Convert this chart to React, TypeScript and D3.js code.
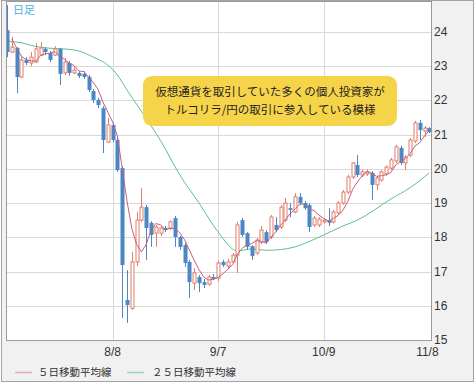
import React from "react";
import * as d3 from "d3";

const openV = [24.05,23.41,23.53,22.68,23.18,23.09,23.12,23.32,23.50,23.38,23.32,23.50,22.80,23.09,22.80,22.80,22.77,22.68,22.27,22.01,21.77,20.78,21.28,20.84,20.02,16.17,15.93,17.28,18.50,18.88,18.42,18.12,18.12,18.27,18.27,18.56,18.01,17.77,17.28,16.66,16.84,16.69,16.63,16.84,16.81,17.28,17.16,17.28,17.48,18.50,18.12,17.74,17.54,17.86,18.15,18.01,18.36,18.30,18.50,18.85,18.74,19.18,19.00,18.94,18.36,18.36,18.45,18.50,18.45,18.71,19.00,19.32,19.76,20.11,19.82,19.85,19.88,19.53,19.67,19.85,20.02,20.23,20.61,20.17,20.40,20.81,21.34,21.10,21.19];
const highV = [24.78,23.85,23.55,23.29,23.26,23.41,23.67,23.70,23.55,23.44,23.58,23.53,23.23,23.15,22.97,22.85,22.85,22.74,22.33,22.07,21.83,21.48,21.34,20.90,20.08,17.04,17.57,18.74,19.44,18.94,18.47,18.36,18.33,18.33,18.50,18.62,18.04,17.83,17.34,17.10,16.90,16.78,16.90,16.93,17.31,17.34,17.37,17.54,18.45,18.56,18.15,17.77,17.98,18.33,18.21,18.65,18.59,18.94,19.15,19.00,19.29,19.29,19.06,19.00,18.62,18.59,18.56,18.85,18.80,19.06,19.38,19.82,20.20,20.40,19.98,19.98,19.93,19.79,19.96,20.10,20.32,20.70,20.67,20.40,20.90,21.40,21.42,21.25,21.22];
const lowV = [23.26,23.38,22.21,22.65,23.03,23.00,23.09,23.29,23.32,23.12,23.29,22.45,22.74,22.71,22.77,22.65,22.62,22.24,21.92,21.77,20.46,20.75,20.78,19.91,15.64,15.50,15.88,17.16,18.45,17.34,17.72,17.72,18.04,18.15,18.21,17.72,17.63,17.13,16.23,16.46,16.40,16.52,16.58,16.75,16.72,17.13,17.10,17.25,16.96,18.01,17.63,17.34,17.48,17.80,17.80,17.95,18.15,18.24,18.45,18.59,18.70,18.95,18.80,18.15,18.30,18.30,18.40,18.33,18.40,18.65,18.95,19.26,19.70,19.76,19.76,19.79,19.09,19.38,19.62,19.80,19.96,20.17,20.11,19.96,20.34,20.75,20.84,20.93,21.04];
const closeV = [23.41,23.55,22.68,23.18,23.09,23.26,23.50,23.53,23.41,23.18,23.50,22.77,23.12,22.80,22.88,22.71,22.68,22.30,22.01,21.86,20.84,21.28,20.84,19.96,17.19,16.02,17.28,18.50,18.88,18.27,18.07,18.30,18.27,18.21,18.45,18.01,17.72,17.25,16.69,16.96,16.66,16.61,16.84,16.79,17.25,17.19,17.28,17.48,18.36,18.07,17.72,17.45,17.92,18.21,17.86,18.59,18.21,18.88,19.00,18.80,19.18,19.00,18.85,18.30,18.56,18.53,18.50,18.42,18.74,19.00,19.32,19.76,20.17,19.82,19.91,19.91,19.53,19.73,19.91,20.05,20.26,20.64,20.17,20.34,20.84,21.34,21.13,21.19,21.07];

// 5-day MA values at the first candles (window starts before the chart)
const ma5LeadIndex = [1, 2, 3];
const ma5LeadValue = [23.79, 23.53, 23.29];

// 25-day MA
const ma25Index = [0,3,6,9,12,15,18,21,23,25,28,32,36,40,44,48,51,54,57,60,62,66,70,73,80,84,88];
const ma25Value = [23.73,23.68,23.57,23.52,23.50,23.44,23.26,23.03,22.74,22.30,21.68,20.82,19.82,19.00,18.15,17.60,17.66,17.62,17.64,17.72,17.82,18.07,18.33,18.50,19.12,19.45,19.88];

const yTicks = [15,16,17,18,19,20,21,22,23,24];
const xTickIndex = [22,44,66,88];
const xTickLabels = ["8/8","9/7","10/9","11/8"];

const annotationLines = ["仮想通貨を取引していた多くの個人投資家が","トルコリラ/円の取引に参入している模様"];
const legendLabels = ["５日移動平均線","２５日移動平均線"];

const UP = "#e27d6b";
const DOWN = "#4a87c4";
const MA5C = "#c2607e";
const MA25C = "#5cbf8c";

export default function App() {
  const W = 475, H = 383;
  const plotL = 6.5, plotR = 431.5, plotT = 1.5, plotB = 340.5;
  const n = closeV.length;
  const x = d3.scaleLinear().domain([0, n - 1]).range([7, 429.4]);
  const y = d3.scaleLinear().domain([15, 24.9]).range([340, 1]);

  const ma5: [number, number][] = [];
  ma5LeadIndex.forEach((idx, k) => ma5.push([idx, ma5LeadValue[k]]));
  for (let i = 4; i < n; i++) {
    ma5.push([i, d3.mean(closeV.slice(i - 4, i + 1)) as number]);
  }
  const ma25: [number, number][] = ma25Index.map((idx, k) => [idx, ma25Value[k]]);

  const line = d3.line<[number, number]>().x(d => x(d[0])).y(d => y(d[1])).curve(d3.curveMonotoneX);
  const line5 = d3.line<[number, number]>().x(d => x(d[0])).y(d => y(d[1]));

  const numFont = "'Liberation Sans', Arial, sans-serif";
  const jpFont = "'Noto Sans CJK JP', sans-serif";

  return (
    <svg width={W} height={H} style={{ position: "absolute", left: 0, top: 0 }}>
      <rect x={0} y={0} width={W} height={H} fill="#ffffff" />
      <rect x={1.5} y={0.5} width={472} height={381} fill="#f1f1f1" stroke="#a3a3a3" />
      <defs>
        <clipPath id="plotclip">
          <rect x={plotL} y={plotT} width={plotR - plotL} height={plotB - plotT} />
        </clipPath>
      </defs>
      <rect x={plotL} y={plotT} width={plotR - plotL} height={plotB - plotT} fill="#ffffff" />
      {yTicks.slice(1).map(t => (
        <line key={"gy" + t} x1={plotL} x2={plotR} y1={Math.round(y(t)) + 0.5} y2={Math.round(y(t)) + 0.5} stroke="#d9d9d9" />
      ))}
      {xTickIndex.slice(0, 3).map(t => (
        <line key={"gx" + t} x1={Math.round(x(t)) + 0.5} x2={Math.round(x(t)) + 0.5} y1={plotT} y2={plotB} stroke="#d9d9d9" />
      ))}
      <g clipPath="url(#plotclip)">
        <path d={line(ma25) || ""} fill="none" stroke={MA25C} strokeWidth={1} />
        {closeV.map((c, i) => {
          const o = openV[i];
          const up = c >= o;
          const cx = Math.round(x(i)) + 0.5;
          const top = y(Math.max(o, c));
          const bot = y(Math.min(o, c));
          const col = up ? UP : DOWN;
          return (
            <g key={i}>
              <line x1={cx} x2={cx} y1={y(highV[i])} y2={y(lowV[i])} stroke={col} strokeWidth={1} />
              {up ? (
                <rect x={cx - 1.5} y={top} width={3} height={Math.max(bot - top, 1)} fill="#ffffff" stroke={col} strokeWidth={1} />
              ) : (
                <rect x={cx - 2} y={top} width={4} height={Math.max(bot - top, 1.5)} fill={col} />
              )}
            </g>
          );
        })}
        <path d={line5(ma5) || ""} fill="none" stroke={MA5C} strokeWidth={1} />
      </g>
      <rect x={plotL} y={plotT} width={plotR - plotL} height={plotB - plotT} fill="none" stroke="#9a9a9a" />
      <text x={13} y={14} fontFamily={jpFont} fontSize={11} fill="#4cb0e0">日足</text>
      {yTicks.map(t => (
        <text key={"ty" + t} x={434} y={y(t) + 1} dominantBaseline="middle" fontFamily={numFont} fontSize={12} fill="#333">{t}</text>
      ))}
      {xTickIndex.map((t, k) => (
        <text key={"tx" + t} x={x(t) - (k === 3 ? 2 : 0)} y={356} textAnchor="middle" fontFamily={numFont} fontSize={12} fill="#333">{xTickLabels[k]}</text>
      ))}
      <line x1={15} x2={32} y1={372.5} y2={372.5} stroke="#e2aab8" strokeWidth={1.5} />
      <text x={38} y={376} fontFamily={jpFont} fontSize={10.5} fill="#333">{legendLabels[0]}</text>
      <line x1={127} x2={144} y1={372.5} y2={372.5} stroke="#9ad4b4" strokeWidth={1.5} />
      <text x={152} y={376} fontFamily={jpFont} fontSize={10.5} fill="#333">{legendLabels[1]}</text>
      <rect x={143} y={76} width={254} height={50} rx={9} ry={9} fill="#f6d44a" />
      {annotationLines.map((s, k) => (
        <text key={"a" + k} x={270} y={93 + k * 18} textAnchor="middle" dominantBaseline="middle" fontFamily={jpFont} fontSize={11.5} fill="#222">{s}</text>
      ))}
    </svg>
  );
}
